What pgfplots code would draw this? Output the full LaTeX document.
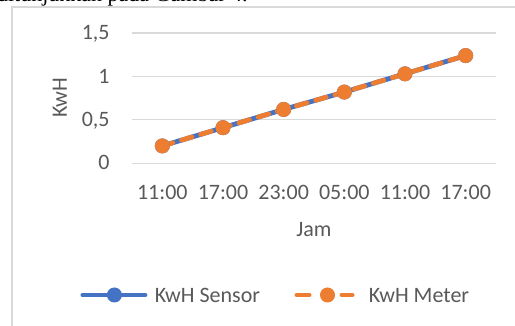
\documentclass[border=0pt]{standalone}
\usepackage{pgfplots}
\pgfplotsset{compat=1.18}
\usepackage{fontspec}
\setmainfont{Carlito}
\newfontfamily\bodyserif{Liberation Serif}

\definecolor{sensorblue}{HTML}{4472C4}
\definecolor{meterorange}{HTML}{ED7D31}
\definecolor{labelgray}{HTML}{595959}
\definecolor{gridgray}{HTML}{D9D9D9}

\begin{document}
\begin{tikzpicture}[font=\fontsize{11pt}{13pt}\selectfont]
\useasboundingbox (0,0) rectangle (257.5pt,163pt);
% last line of the running text above the chart
\node[anchor=base east, inner sep=0pt, font=\bodyserif\fontsize{11pt}{13pt}\selectfont]
  at (124pt,162.2pt) {ditunjukkan pada Gambar 4.};
% chart area border
\draw[gridgray, line width=0.7pt] (6pt,-2pt) -- (6pt,159.5pt) -- (262pt,159.5pt);

\begin{axis}[
  at={(66pt,81.35pt)}, anchor=south west,
  scale only axis, width=182pt, height=65.15pt,
  xmin=-0.5, xmax=5.5, ymin=0, ymax=1.5,
  xtick={0,...,5},
  xticklabels={11:00,17:00,23:00,05:00,11:00,17:00},
  ytick={0,0.5,1,1.5},
  yticklabels={0,{0,5},1,{1,5}},
  major tick length=0pt,
  axis line style={draw=none},
  ymajorgrids, grid style={gridgray, line width=0.6pt},
  tick label style={text=labelgray, inner sep=0pt},
  xticklabel style={anchor=base, yshift=-18pt},
  yticklabel style={anchor=base east, xshift=-11pt, yshift=-3.3pt},
  xlabel={Jam}, ylabel={KwH},
  xlabel style={at={(axis description cs:0.5,-0.563)}, anchor=base, inner sep=0pt, text=labelgray},
  ylabel style={at={(axis description cs:-0.198,0.501)}, anchor=center, inner sep=0pt, text=labelgray},
  clip=false,
  legend columns=2,
  legend cell align=left,
  legend style={at={(axis description cs:-0.14835,-1.0107)}, anchor=west,
    draw=none, fill=none, inner sep=0pt, outer sep=0pt, text=labelgray,
    nodes={inner sep=0pt, text depth=0pt},
    /tikz/every odd column/.append style={column sep=2.5pt},
    /tikz/every even column/.append style={column sep=16pt}},
]
\addplot[sensorblue, line width=2.4pt, line join=round,
  mark=*, mark size=3.5pt, mark options={solid, fill=sensorblue, line width=0.5pt},
  legend image code/.code={
    \draw[line cap=round] (1.2pt,0pt) -- (32.3pt,0pt);
    \draw plot coordinates {(17pt,0pt)};
    \path (0pt,0pt) (33.5pt,0pt);
  }]
  coordinates {(0,0.20) (1,0.41) (2,0.62) (3,0.82) (4,1.03) (5,1.24)};
\addlegendentry{KwH Sensor}

\addplot[meterorange, line width=2.4pt, line cap=round, line join=round,
  dash pattern=on 5.5pt off 4.5pt,
  mark=*, mark size=3.5pt, mark options={solid, fill=meterorange, line width=0.5pt},
  legend image code/.code={
    \draw[solid, line cap=round] (1.2pt,0pt) -- (7.3pt,0pt);
    \draw[solid, line cap=round] (23.7pt,0pt) -- (28.8pt,0pt);
    \draw plot coordinates {(16.5pt,0pt)};
    \path (0pt,0pt) (33.5pt,0pt);
  }]
  coordinates {(0,0.20) (1,0.41) (2,0.62) (3,0.82) (4,1.03) (5,1.24)};
\addlegendentry{KwH Meter}
\end{axis}
\end{tikzpicture}
\end{document}
